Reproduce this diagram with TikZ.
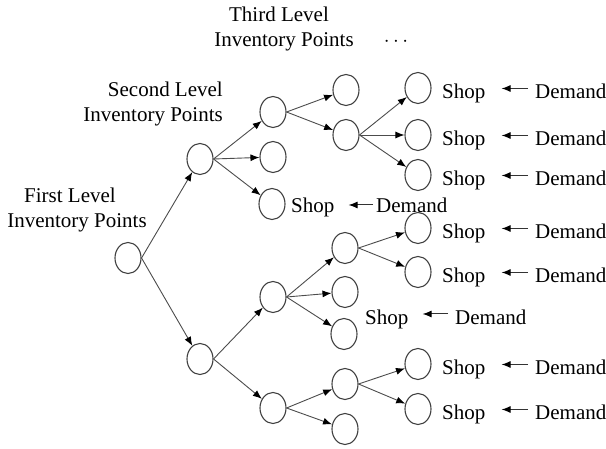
\documentclass[tikz,border=0pt]{standalone}
\usepackage{fontspec}
\setmainfont{Liberation Serif}
\usetikzlibrary{arrows.meta,shapes.geometric}
\begin{document}
\begin{tikzpicture}[x=1pt,y=-1pt,
  inv/.style={ellipse,draw=black!75,line width=1.1pt,minimum width=26pt,minimum height=31pt,inner sep=0pt},
  edge/.style={draw=black!70,line width=0.9pt,-{Latex[length=9pt,width=7pt,color=black]}},
  txt/.style={inner sep=0pt,font=\fontsize{21}{25}\selectfont,anchor=base west},
  lbl/.style={inner sep=0pt,font=\fontsize{21}{25}\selectfont,anchor=base},
  lblr/.style={inner sep=0pt,font=\fontsize{21}{25}\selectfont,anchor=base east},
  demarrow/.style={draw=black!80,line width=1pt,-{Latex[length=9pt,width=7pt,color=black]}}
]
\useasboundingbox (0,0) rectangle (606,449);

% level labels
\node[lbl] (t1) at (279,22) {Third Level};
\node[lbl] (t2) at (284,47) {Inventory Points};
\node[inner sep=0pt,font=\fontsize{21}{25}\selectfont] (dots) at (396,42) {$\cdots$};
\node[lblr] (s1) at (223,97) {Second Level};
\node[lblr] (s2) at (223,122) {Inventory Points};
\node[lbl] (f1) at (70,203) {First Level};
\node[lbl] (f2) at (77,228) {Inventory Points};

% inventory points
\node[inv] (r) at (128,258) {};
\node[inv] (a) at (200,159) {};
\node[inv] (b) at (200,359) {};
\node[inv] (a1) at (273,112) {};
\node[inv] (a2) at (273,157) {};
\node[inv] (a3) at (272,204) {};
\node[inv] (b1) at (273,297) {};
\node[inv] (b2) at (273,408) {};
\node[inv] (a11) at (346,90) {};
\node[inv] (a12) at (346,135) {};
\node[inv] (a121) at (418,88) {};
\node[inv] (a122) at (418,135) {};
\node[inv] (a123) at (418,175) {};
\node[inv] (b11) at (345,248) {};
\node[inv] (b12) at (345,292) {};
\node[inv] (b13) at (344,334) {};
\node[inv] (b21) at (345,384) {};
\node[inv] (b22) at (345,429) {};
\node[inv] (b111) at (418,228) {};
\node[inv] (b112) at (418,272) {};
\node[inv] (b211) at (418,364) {};
\node[inv] (b212) at (418,409) {};

% edges
\foreach \p/\c in {r/a,r/b,a/a1,a/a2,a/a3,b/b1,b/b2,a1/a11,a1/a12,
  a12/a121,a12/a122,a12/a123,b1/b11,b1/b12,b1/b13,b2/b21,b2/b22,
  b11/b111,b11/b112,b21/b211,b21/b212}
  \draw[edge] (\p.east) -- (\c);

% shops and demand
\foreach \n/\y in {A/99,B/146,C/186,D/239,E/283,F/375,G/420}{
  \node[txt] (shop\n) at (442,\y) {Shop};
  \node[txt] (dem\n) at (535,\y) {Demand};
  \draw[demarrow] ([xshift=-7pt,yshift=10.5pt]dem\n.base west) -- ([xshift=16pt,yshift=10.5pt]shop\n.base east);
}
\node[txt] (shopH) at (291,213) {Shop};
\node[txt] (demH) at (376,213) {Demand};
\draw[demarrow] ([xshift=-3pt,yshift=8pt]demH.base west) -- ([xshift=14pt,yshift=8pt]shopH.base east);
\node[txt] (shopI) at (365,325) {Shop};
\node[txt] (demI) at (455,325) {Demand};
\draw[demarrow] ([xshift=-7pt,yshift=11pt]demI.base west) -- ([xshift=14pt,yshift=11pt]shopI.base east);
\end{tikzpicture}
\end{document}
